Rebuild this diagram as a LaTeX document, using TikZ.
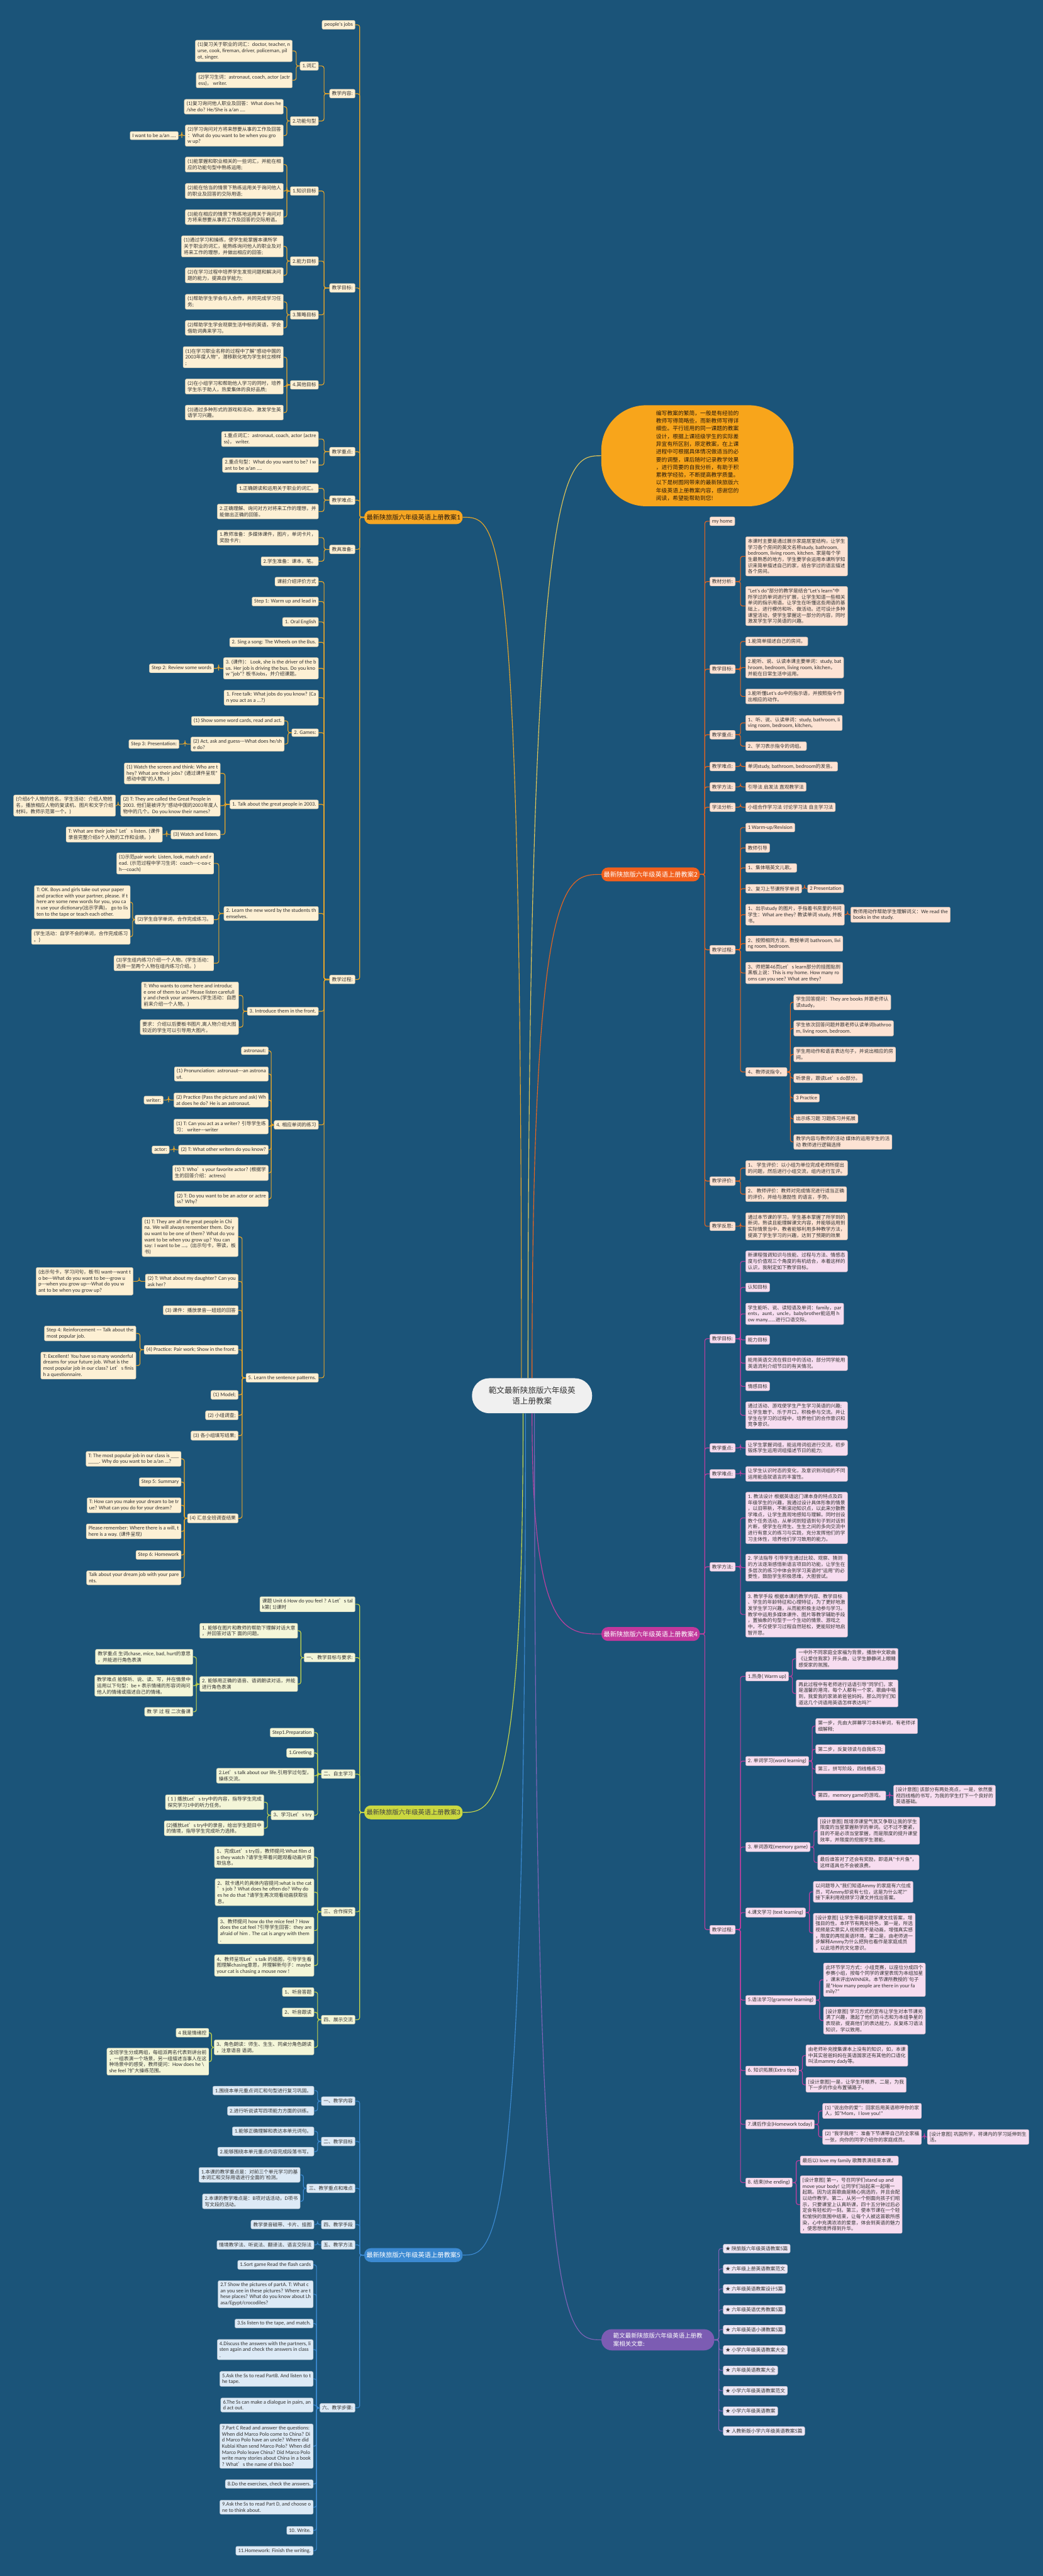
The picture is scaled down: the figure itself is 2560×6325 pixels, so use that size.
\documentclass[tikz,border=0pt]{standalone}
\usepackage{fontspec}
\setmainfont{Carlito}[Scale=1.1,Ligatures=TeXOff]
\newfontfamily\cjkfont{Noto Sans CJK SC}
% Chinese characters go to the CJK font, the rest stays in Carlito
\XeTeXinterchartokenstate=1
\newXeTeXintercharclass\cjkclass
\newcount\cjkcnt
\cjkcnt="2E80
\loop
  \XeTeXcharclass\cjkcnt=\cjkclass
  \advance\cjkcnt by 1
\ifnum\cjkcnt<"A000 \repeat
\cjkcnt="FF00
\loop
  \XeTeXcharclass\cjkcnt=\cjkclass
  \advance\cjkcnt by 1
\ifnum\cjkcnt<"FFF0 \repeat
\XeTeXcharclass"2605=\cjkclass
\XeTeXcharclass"2019=\cjkclass
\XeTeXinterchartoks 0 \cjkclass = {\cjkfont}
\XeTeXinterchartoks 4095 \cjkclass = {\cjkfont}
\XeTeXinterchartoks \cjkclass 0 = {\rmfamily}
\XeTeXinterchartoks \cjkclass 4095 = {\rmfamily}
\usepackage{tikz}
\usetikzlibrary{calc}
\definecolor{bgc}{HTML}{1B5479}
\definecolor{leaftext}{HTML}{333333}
\definecolor{main1}{HTML}{F6A623}
\definecolor{fill1}{HTML}{FDF0D4}
\definecolor{line1}{HTML}{E8A62A}
\definecolor{main2}{HTML}{F2601D}
\definecolor{fill2}{HTML}{FDE3D4}
\definecolor{line2}{HTML}{E9651F}
\definecolor{main3}{HTML}{CBD840}
\definecolor{fill3}{HTML}{F4F6D8}
\definecolor{line3}{HTML}{C9D84A}
\definecolor{main4}{HTML}{C2389C}
\definecolor{fill4}{HTML}{F7DDF0}
\definecolor{line4}{HTML}{C23FA0}
\definecolor{main5}{HTML}{3C8AD2}
\definecolor{fill5}{HTML}{DDEAF6}
\definecolor{line5}{HTML}{3C8AD2}
\definecolor{main6}{HTML}{7C5CB3}
\definecolor{fill6}{HTML}{ECE7F6}
\definecolor{line6}{HTML}{8064B8}
\definecolor{blobc}{HTML}{F8A51B}
\definecolor{lineb}{HTML}{E2C657}
\definecolor{rootc}{HTML}{F0F0F0}
\tikzset{
  leaf/.style   = {rectangle, rounded corners=2pt, align=left, inner xsep=3.2pt,
                   inner ysep=3pt, font=\fontsize{6.8}{8.5}\selectfont,
                   text=leaftext, line width=0.4pt},
  lf1/.style    = {leaf, fill=fill1, draw=fill1!80!black},
  lf2/.style    = {leaf, fill=fill2, draw=fill2!80!black},
  lf3/.style    = {leaf, fill=fill3, draw=fill3!80!black},
  lf4/.style    = {leaf, fill=fill4, draw=fill4!80!black},
  lf5/.style    = {leaf, fill=fill5, draw=fill5!80!black},
  lf6/.style    = {leaf, fill=fill6, draw=fill6!80!black},
  mainbr/.style = {rectangle, rounded corners=9pt, minimum height=0.68cm,
                   inner xsep=3.2pt, inner ysep=2pt, font=\fontsize{9}{11}\selectfont},
  mb1/.style    = {mainbr, fill=main1, text=black!80!brown},
  mb2/.style    = {mainbr, fill=main2, text=white},
  mb3/.style    = {mainbr, fill=main3, text=black!75},
  mb4/.style    = {mainbr, fill=main4, text=white},
  mb5/.style    = {mainbr, fill=main5, text=white},
  mb6/.style    = {mainbr, fill=main6, text=white, rounded corners=0.5cm, align=left,
                   minimum width=5.54cm, minimum height=1.04cm,
                   font=\fontsize{8.3}{11.3}\selectfont},
  rootbox/.style= {rectangle, rounded corners=0.85cm, fill=rootc, text=black!80,
                   align=center, minimum width=5.9cm, minimum height=1.72cm,
                   font=\fontsize{11}{14.2}\selectfont},
  introblob/.style={rectangle, rounded corners=2.2cm, fill=blobc, text=black!80!brown,
                   align=left, minimum width=9.44cm, minimum height=4.96cm,
                   font=\fontsize{7.7}{10.8}\selectfont},
  lnk/.style    = {line width=1pt, rounded corners=3pt},
  lk1/.style    = {lnk, draw=line1},
  lk2/.style    = {lnk, draw=line2},
  lk3/.style    = {lnk, draw=line3},
  lk4/.style    = {lnk, draw=line4},
  lk5/.style    = {lnk, draw=line5},
  lk6/.style    = {lnk, draw=line6},
  crv/.style    = {line width=1pt},
}
\newcommand\tol[3]{\foreach \nd in {#3}{\draw[#1] (#2.west) -| ($(#2.west)!.5!(\nd.east)$) |- (\nd.east);}}
\newcommand\tor[3]{\foreach \nd in {#3}{\draw[#1] (#2.east) -| ($(#2.east)!.5!(\nd.west)$) |- (\nd.west);}}
\begin{document}
\begin{tikzpicture}[x=0.02cm, y=-0.02cm]
\useasboundingbox (0,0) rectangle (2560,6325);
\fill[bgc] (0,0) rectangle (2560,6325);

\node[rootbox] (root) at (1306,3427) {範文最新陕旅版六年级英\\语上册教案};
\node[introblob] (intro) at (1712,1119) {编写教案的繁简，一般是有经验的\\教师写得简略些，而新教师写得详\\细些。平行班用的同一课题的教案\\设计，根据上课班级学生的实际差\\异宜有所区别，原定教案，在上课\\进程中可根据具体情况做适当的必\\要的调整，课后随时记录教学效果\\，进行简要的自我分析，有助于积\\累教学经验，不断提高教学质量。\\以下是树图网带来的最新陕旅版六\\年级英语上册教案内容，感谢您的\\阅读，希望能帮助到您!};

% ---- lesson 1 (left, orange)
\begin{scope}[every node/.append style={anchor=east}]
\node[mb1] (m1) at (1136,1270) {最新陕旅版六年级英语上册教案1};
\node[lf1] (pj) at (872,61) {people's jobs};
\node[lf1] (nr) at (872,230) {教学内容:};
\node[lf1] (ch) at (782,162) {1.词汇};
\node[lf1] (ch1) at (718,125) {(1)复习关于职业的词汇：doctor, teacher, n\\urse, cook, fireman, driver, policeman, pil\\ot, singer.};
\node[lf1] (ch2) at (718,197) {(2)学习生词：astronaut, coach, actor (actr\\ess)， writer.};
\node[lf1] (gn) at (782,297) {2.功能句型};
\node[lf1] (gn1) at (696,262) {(1)复习询问他人职业及回答：What does he\\/she do? He/She is a/an ....};
\node[lf1] (gn2) at (696,333) {(2)学习询问对方将来想要从事的工作及回答\\：What do you want to be when you gro\\w up?};
\node[lf1] (gn3) at (438,333) {I want to be a/an ....};
\node[lf1] (mbz) at (872,707) {教学目标:};
\node[lf1] (zs) at (782,469) {1.知识目标};
\node[lf1] (zs1) at (696,404) {(1)能掌握和职业相关的一些词汇，并能在相\\应的功能句型中熟练运用;};
\node[lf1] (zs2) at (696,469) {(2)能在恰当的情景下熟练运用关于询问他人\\的职业及回答的交际用语;};
\node[lf1] (zs3) at (696,533) {(3)能在相应的情景下熟练地运用关于询问对\\方将来想要从事的工作及回答的交际用语。};
\node[lf1] (nl) at (782,641) {2.能力目标};
\node[lf1] (nl1) at (696,605) {(1)通过学习和操练，使学生能掌握本课所学\\关于职业的词汇，能熟练询问他人的职业及对\\将来工作的理想，并做出相应的回答;};
\node[lf1] (nl2) at (696,676) {(2)在学习过程中培养学生发现问题和解决问\\题的能力，提高自学能力;};
\node[lf1] (cl) at (782,773) {3.策略目标};
\node[lf1] (cl1) at (696,741) {(1)帮助学生学会与人合作，共同完成学习任\\务;};
\node[lf1] (cl2) at (696,805) {(2)帮助学生学会观察生活中标的英语，学会\\借助词典来学习。};
\node[lf1] (qt) at (782,945) {4.其他目标};
\node[lf1] (qt1) at (696,877) {(1)在学习职业名称的过程中了解"感动中国的\\2003年度人物"，潜移默化地为学生树立榜样\\;};
\node[lf1] (qt2) at (696,949) {(2)在小组学习和帮助他人学习的同时，培养\\学生乐于助人，热爱集体的良好品质;};
\node[lf1] (qt3) at (696,1013) {(3)通过多种形式的游戏和活动，激发学生英\\语学习兴趣。};
\node[lf1] (zd) at (872,1109) {教学重点:};
\node[lf1] (zd1) at (782,1078) {1.重点词汇：astronaut, coach, actor (actre\\ss)， writer.};
\node[lf1] (zd2) at (782,1142) {2.重点句型：What do you want to be? I w\\ant to be a/an ....};
\node[lf1] (nd) at (872,1228) {教学难点:};
\node[lf1] (nd1) at (782,1199) {1.正确朗读和运用关于职业的词汇。};
\node[lf1] (nd2) at (782,1256) {2.正确理解、询问对方对将来工作的理想，并\\能做出正确的回答。};
\node[lf1] (jj) at (872,1349) {教具准备:};
\node[lf1] (jj1) at (782,1320) {1.教师准备：多媒体课件，图片，单词卡片，\\奖励卡片;};
\node[lf1] (jj2) at (782,1378) {2.学生准备：课本，笔。};
\node[lf1] (gc) at (872,2405) {教学过程:};
\node[lf1] (g1) at (782,1428) {课前介绍评价方式};
\node[lf1] (g2) at (782,1477) {Step 1: Warm up and lead in};
\node[lf1] (g3) at (782,1527) {1. Oral English};
\node[lf1] (g4) at (782,1577) {2. Sing a song: The Wheels on the Bus.};
\node[lf1] (g5) at (782,1641) {3. (课件)：  Look, she is the driver of the b\\us. Her job is driving the bus. Do you kno\\w "job"? 板书Jobs，并介绍课题。};
\node[lf1] (g5a) at (525,1641) {Step 2: Review some words};
\node[lf1] (g6) at (782,1713) {1. Free talk: What jobs do you know? (Ca\\n you act as a ...?)};
\node[lf1] (g7) at (782,1799) {2. Games:};
\node[lf1] (g7a) at (698,1770) {(1) Show some word cards, read and act.};
\node[lf1] (g7b) at (698,1827) {(2) Act, ask and guess---What does he/sh\\e do?};
\node[lf1] (g7c) at (440,1827) {Step 3: Presentation:};
\node[lf1] (g8) at (782,1975) {1. Talk about the great people in 2003.};
\node[lf1] (g8a) at (541,1899) {(1) Watch the screen and think: Who are t\\hey? What are their jobs? (通过课件呈现"\\感动中国"的人物。)};
\node[lf1] (g8b) at (541,1978) {(2) T: They are called the Great People in\\2003. 他们是被评为"感动中国的2003年度人\\物中的几个。Do you know their names?};
\node[lf1] (g8c) at (284,1978) {(介绍6个人物的姓名。学生活动：介绍人物姓\\名，播放相应人物的复读机、图片和文字介绍\\材料，教师示范第一个。)};
\node[lf1] (g8d) at (541,2049) {(3) Watch and listen.};
\node[lf1] (g8e) at (399,2049) {T: What are their jobs? Let’s listen. (课件\\录音完整介绍6个人物的工作和业绩。)};
\node[lf1] (g9) at (782,2243) {2. Learn the new word by the students th\\emselves.};
\node[lf1] (g9a) at (525,2120) {(1)示范pair work: Listen, look, match and r\\ead. (示范过程中学习生词：coach---c-oa-c\\h---coach)};
\node[lf1] (g9b) at (525,2258) {(2)学生自学单词，合作完成练习。};
\node[lf1] (g9c) at (320,2215) {T: OK. Boys and girls take out your paper\\and practice with your partner, please. If t\\here are some new words for you, you ca\\n use your dictionary(出示字典)，  go to lis\\ten to the tape or teach each other.};
\node[lf1] (g9d) at (320,2300) {(学生活动：自学不会的单词，合作完成练习\\。)};
\node[lf1] (g9e) at (525,2365) {(3)学生组内练习介绍一个人物。(学生活动：\\选择一至两个人物在组内练习介绍。)};
\node[lf1] (g10) at (782,2483) {3. Introduce them in the front.};
\node[lf1] (g10a) at (586,2444) {T: Who wants to come here and introduc\\e one of them to us? Please listen carefull\\y and check your answers.(学生活动：自愿\\前来介绍一个人物。)};
\node[lf1] (g10b) at (586,2522) {要求：介绍以后要板书图片,离人物介绍大图\\较近的学生可以引导用大图片。};
\node[lf1] (g11) at (782,2762) {4. 相应单词的练习};
\node[lf1] (g11a) at (659,2580) {astronaut:};
\node[lf1] (g11b) at (659,2637) {(1) Pronunciation: astronaut---an astrona\\ut.};
\node[lf1] (g11c) at (659,2701) {(2) Practice (Pass the picture and ask) Wh\\at does he do? He is an astronaut.};
\node[lf1] (g11d) at (401,2701) {writer:};
\node[lf1] (g11e) at (659,2766) {(1) T: Can you act as a writer? 引导学生练\\习：  writer---writer};
\node[lf1] (g11f) at (659,2823) {(2) T: What other writers do you know?};
\node[lf1] (g11g) at (416,2823) {actor:};
\node[lf1] (g11h) at (659,2880) {(1) T: Who’s your favorite actor? (根据学\\生的回答介绍：actress)};
\node[lf1] (g11i) at (659,2944) {(2) T: Do you want to be an actor or actre\\ss? Why?};
\node[lf1] (g12) at (782,3383) {5. Learn the sentence patterns.};
\node[lf1] (g12a) at (585,3037) {(1) T: They are all the great people in Chi\\na. We will always remember them. Do y\\ou want to be one of them? What do you\\ want to be when you grow up? You can\\say: I want to be ...。(出示句卡，带读，板\\书)};
\node[lf1] (g12b) at (585,3146) {(2) T: What about my daughter? Can you\\ask her?};
\node[lf1] (g12c) at (327,3146) {(出示句卡，学习问句，板书) want---want t\\o be---What do you want to be---grow u\\p---when you grow up---What do you w\\ant to be when you grow up?};
\node[lf1] (g12d) at (585,3217) {(3) 课件：播放录音---妞妞的回答};
\node[lf1] (g12e) at (585,3314) {(4) Practice: Pair work; Show in the front.};
\node[lf1] (g12f) at (334,3274) {Step 4: Reinforcement --- Talk about the\\most popular job.};
\node[lf1] (g12g) at (334,3353) {T: Excellent! You have so many wonderful\\ dreams for your future job. What is the\\most popular job in our class? Let’s finis\\h a questionnaire.};
\node[lf1] (g12h) at (585,3425) {(1) Model;};
\node[lf1] (g12i) at (585,3475) {(2) 小组调查;};
\node[lf1] (g12j) at (585,3525) {(3) 各小组填写结果;};
\node[lf1] (g12k) at (585,3728) {(4) 汇总全班调查结果};
\node[lf1] (s1) at (445,3582) {T: The most popular job in our class is \_\_\_\\\_\_\_\_. Why do you want to be a/an ...?};
\node[lf1] (s2) at (445,3639) {Step 5: Summary};
\node[lf1] (s3) at (445,3696) {T: How can you make your dream to be tr\\ue? What can you do for your dream?};
\node[lf1] (s4) at (445,3760) {Please remember: Where there is a will, t\\here is a way. (课件呈现)};
\node[lf1] (s5) at (445,3818) {Step 6: Homework};
\node[lf1] (s6) at (445,3874) {Talk about your dream job with your pare\\nts.};
\end{scope}
\tol{lk1}{m1}{pj,nr,mbz,zd,nd,jj,gc}
\tol{lk1}{nr}{ch,gn}
\tol{lk1}{ch}{ch1,ch2}
\tol{lk1}{gn}{gn1,gn2}
\tol{lk1}{gn2}{gn3}
\tol{lk1}{mbz}{zs,nl,cl,qt}
\tol{lk1}{zs}{zs1,zs2,zs3}
\tol{lk1}{nl}{nl1,nl2}
\tol{lk1}{cl}{cl1,cl2}
\tol{lk1}{qt}{qt1,qt2,qt3}
\tol{lk1}{zd}{zd1,zd2}
\tol{lk1}{nd}{nd1,nd2}
\tol{lk1}{jj}{jj1,jj2}
\tol{lk1}{gc}{g1,g2,g3,g4,g5,g6,g7,g8,g9,g10,g11,g12}
\tol{lk1}{g5}{g5a}
\tol{lk1}{g7}{g7a,g7b}
\tol{lk1}{g7b}{g7c}
\tol{lk1}{g8}{g8a,g8b,g8d}
\tol{lk1}{g8b}{g8c}
\tol{lk1}{g8d}{g8e}
\tol{lk1}{g9}{g9a,g9b,g9e}
\tol{lk1}{g9b}{g9c,g9d}
\tol{lk1}{g10}{g10a,g10b}
\tol{lk1}{g11}{g11a,g11b,g11c,g11e,g11f,g11h,g11i}
\tol{lk1}{g11c}{g11d}
\tol{lk1}{g11f}{g11g}
\tol{lk1}{g12}{g12a,g12b,g12d,g12e,g12h,g12i,g12j,g12k}
\tol{lk1}{g12b}{g12c}
\tol{lk1}{g12e}{g12f,g12g}
\tol{lk1}{g12k}{s1,s2,s3,s4,s5,s6}

% ---- lesson 3 (left, yellow-green)
\begin{scope}[every node/.append style={anchor=east}]
\node[mb3] (m3) at (1136,4450) {最新陕旅版六年级英语上册教案3};
\node[lf3] (kt) at (872,3939) {课题 Unit 6 How do you feel ? A Let’s tal\\k第( 1)课时};
\node[lf3] (y1) at (872,4070) {一、 教学目标与要求:};
\node[lf3] (y1a) at (731,4004) {1. 能够在图片和教师的帮助下理解对话大意\\，并回答对话下 面的问题。};
\node[lf3] (y1b) at (731,4135) {2. 能够用正确的语音、语调朗读对话，并能\\进行角色表演};
\node[lf3] (y1c) at (474,4068) {教学重点 生词chase, mice, bad, hurt的意思\\，并能进行角色表演};
\node[lf3] (y1d) at (474,4139) {教学难点 能够听、说、读、写，并在情景中\\运用以下句型：be + 表示情绪的形容词询问\\他人的情绪或描述自己的情绪。};
\node[lf3] (y1e) at (474,4203) {教 学 过 程 二次备课};
\node[lf3] (y2) at (872,4356) {二、自主学习};
\node[lf3] (y2a) at (771,4254) {Step1.Preparation};
\node[lf3] (y2b) at (771,4304) {1.Greeting};
\node[lf3] (y2c) at (771,4360) {2.Let’s talk about our life.引用学过句型，\\操练交流。};
\node[lf3] (y2d) at (771,4457) {3、学习Let’s try};
\node[lf3] (y2e) at (648,4425) {( 1 ) 播放Let’s try中的内容，指导学生完成\\探究学习1中的听力任务。};
\node[lf3] (y2f) at (648,4489) {(2)播放Let’s try中的录音，给出学生题目中\\的情境，指导学生完成听力选择。};
\node[lf3] (y3) at (872,4694) {三、合作探究};
\node[lf3] (y3a) at (771,4560) {1、完成Let’s try后，教师提问:What film d\\o they watch ?请学生带着问题观看动画片获\\取信息。};
\node[lf3] (y3b) at (771,4646) {2、就卡通片的具体内容提问:what is the cat\\’s job ? What does he often do? Why do\\es he do that ?请学生再次观看动画获取信\\息。};
\node[lf3] (y3c) at (771,4740) {3、教师提问 how do the mice feel ? How\\does the cat feel ?引导学生回答：they are\\afraid of him . The cat is angry with them\\.};
\node[lf3] (y3d) at (771,4826) {4、教师呈现Let’s talk 的插图，引导学生看\\图理解chasing意思，并理解新句子：maybe\\ your cat is chasing a mouse now !};
\node[lf3] (y4) at (872,4959) {四、展示交流};
\node[lf3] (y4a) at (771,4891) {1、听音答题};
\node[lf3] (y4b) at (771,4941) {2、听音跟读};
\node[lf3] (y4c) at (771,5027) {3、角色朗读：师生、生生、同桌分角色朗读\\，注意语音 语调。};
\node[lf3] (y4d) at (513,4991) {4 我是情绪控};
\node[lf3] (y4e) at (513,5062) {全班学生分成两组，每组派两名代表到讲台前\\，一组表演一个场景，另一组描述当事人在这\\种场景中的感受，教师提问：How does he \textbackslash\\she feel ?扩大操练范围。};
\end{scope}
\tol{lk3}{m3}{kt,y1,y2,y3,y4}
\tol{lk3}{y1}{y1a,y1b}
\tol{lk3}{y1b}{y1c,y1d,y1e}
\tol{lk3}{y2}{y2a,y2b,y2c,y2d}
\tol{lk3}{y2d}{y2e,y2f}
\tol{lk3}{y3}{y3a,y3b,y3c,y3d}
\tol{lk3}{y4}{y4a,y4b,y4c}
\tol{lk3}{y4c}{y4d,y4e}

% ---- lesson 5 (left, blue)
\begin{scope}[every node/.append style={anchor=east}]
\node[mb5] (m5) at (1136,5537) {最新陕旅版六年级英语上册教案5};
\node[lf5] (e1) at (872,5159) {一、教学内容};
\node[lf5] (e1a) at (771,5133) {1.围绕本单元重点词汇和句型进行复习巩固。};
\node[lf5] (e1b) at (771,5183) {2.进行听说读写四项能力方面的训练。};
\node[lf5] (e2) at (872,5258) {二、教学目标};
\node[lf5] (e2a) at (771,5233) {1.能够正确理解和表达本单元词句。};
\node[lf5] (e2b) at (771,5283) {2.能够围绕本单元重点内容完成段落书写。};
\node[lf5] (e3) at (872,5373) {三、教学重点和难点};
\node[lf5] (e3a) at (737,5340) {1.本课的教学重点是：对前三个单元学习的基\\本词汇和交际用语进行全面的`检测。};
\node[lf5] (e3b) at (737,5405) {2.本课的教学难点是：B项对话活动，D项书\\写文段的活动。};
\node[lf5] (e4) at (872,5462) {四、教学手段};
\node[lf5] (e4a) at (771,5462) {教学录音磁带、卡片、挂图};
\node[lf5] (e5) at (872,5512) {五、教学方法};
\node[lf5] (e5a) at (771,5512) {情境教学法、听说法、翻译法、语言交际法};
\node[lf5] (e6) at (872,5912) {六、教学步骤:};
\node[lf5] (f1) at (769,5561) {1.Sort game Read the flash cards};
\node[lf5] (f2) at (769,5633) {2.T Show the pictures of partA. T: What c\\an you see in these pictures? Where are t\\hese places? What do you know about Lh\\asa/Egypt/crocodiles?};
\node[lf5] (f3) at (769,5705) {3.Ss listen to the tape, and match.};
\node[lf5] (f4) at (769,5769) {4.Discuss the answers with the partners, li\\sten again and check the answers in class\\.};
\node[lf5] (f5) at (769,5841) {5.Ask the Ss to read PartB. And listen to t\\he tape.};
\node[lf5] (f6) at (769,5905) {6.The Ss can make a dialogue in pairs, an\\d act out.};
\node[lf5] (f7) at (769,6006) {7.Part C Read and answer the questions:\\When did Marco Polo come to China? Di\\d Marco Polo have an uncle? Where did\\Kublai Khan send Marco Polo? When did\\Marco Polo leave China? Did Marco Polo\\write many stories about China in a book\\? What’s the name of this boo?};
\node[lf5] (f8) at (769,6099) {8.Do the exercises, check the answers.};
\node[lf5] (f9) at (769,6156) {9.Ask the Ss to read Part D, and choose o\\ne to think about.};
\node[lf5] (f10) at (769,6213) {10. Write.};
\node[lf5] (f11) at (769,6263) {11.Homework: Finish the writing.};
\end{scope}
\tol{lk5}{m5}{e1,e2,e3,e4,e5,e6}
\tol{lk5}{e1}{e1a,e1b}
\tol{lk5}{e2}{e2a,e2b}
\tol{lk5}{e3}{e3a,e3b}
\tol{lk5}{e4}{e4a}
\tol{lk5}{e5}{e5a}
\tol{lk5}{e6}{f1,f2,f3,f4,f5,f6,f7,f8,f9,f10,f11}

% ---- lesson 2 (right, orange-red)
\begin{scope}[every node/.append style={anchor=west}]
\node[mb2] (m2) at (1476,2147) {最新陕旅版六年级英语上册教案2};
\node[lf2] (h1) at (1742,1280) {my home};
\node[lf2] (h2) at (1742,1428) {教材分析:};
\node[lf2] (h2a) at (1830,1366) {本课时主要是通过展示家庭居室结构，让学生\\学习各个房间的英文名称study, bathroom,\\bedroom, living room, kitchen. 家是每个学\\生最熟悉的地方，学生要学会运用本课所学知\\识来简单描述自己的家，结合学过的语言描述\\各个房间。};
\node[lf2] (h2b) at (1830,1488) {"Let's do"部分的教学是结合"Let's learn"中\\所学过的单词进行扩展，让学生知道一些相关\\单词的指示用语。让学生在听懂这些用语的基\\础上，进行模仿和听、做活动。还可设计多种\\课堂活动，使学生掌握这一部分的内容，同时\\激发学生学习英语的兴趣。};
\node[lf2] (h3) at (1742,1643) {教学目标:};
\node[lf2] (h3a) at (1830,1575) {1.能简单描述自己的房间。};
\node[lf2] (h3b) at (1830,1639) {2.能听、说、认读本课主要单词：study, bat\\hroom, bedroom, living room, kitchen，\\并能在日常生活中运用。};
\node[lf2] (h3c) at (1830,1710) {3.能听懂Let's do中的指示语，并按照指令作\\出相应的动作。};
\node[lf2] (h4) at (1742,1804) {教学重点:};
\node[lf2] (h4a) at (1830,1775) {1、听、说、认读单词：study, bathroom, li\\ving room, bedroom, kitchen。};
\node[lf2] (h4b) at (1830,1832) {2、学习表示指令的词组。};
\node[lf2] (h5) at (1742,1882) {教学难点:};
\node[lf2] (h5a) at (1830,1882) {单词study, bathroom, bedroom的发音。};
\node[lf2] (h6) at (1742,1932) {教学方法:};
\node[lf2] (h6a) at (1830,1932) {引导法 启发法 直观教学法};
\node[lf2] (h7) at (1742,1982) {学法分析:};
\node[lf2] (h7a) at (1830,1982) {小组合作学习法 讨论学习法 自主学习法};
\node[lf2] (h8) at (1742,2332) {教学过程:};
\node[lf2] (k1) at (1830,2032) {1 Warm-up/Revision};
\node[lf2] (k2) at (1830,2082) {教师引导};
\node[lf2] (k3) at (1830,2131) {1、集体唱英文儿歌。};
\node[lf2] (k4) at (1830,2182) {2、复习上节课所学单词};
\node[lf2] (k4a) at (1982,2182) {2 Presentation};
\node[lf2] (k5) at (1830,2246) {1、出示study 的图片，手指着书房里的书问\\学生：What are they? 教读单词 study, 并板\\书。};
\node[lf2] (k5a) at (2088,2246) {教师用动作帮助学生理解词义：We read the\\ books in the study.};
\node[lf2] (k6) at (1830,2317) {2、按照相同方法，教授单词 bathroom, livi\\ng room, bedroom.};
\node[lf2] (k7) at (1830,2389) {3、师把第46页Let’s learn部分的挂图贴到\\黑板上说：This is my home. How many ro\\oms can you see? What are they?};
\node[lf2] (k8) at (1830,2632) {4、教师说指令。};
\node[lf2] (k8a) at (1948,2461) {学生回答提问：They are books 并跟老师认\\读study。};
\node[lf2] (k8b) at (1948,2525) {学生依次回答问题并跟老师认读单词bathroo\\m, living room, bedroom.};
\node[lf2] (k8c) at (1948,2589) {学生用动作和语言表达句子，并说出相应的房\\间。};
\node[lf2] (k8d) at (1948,2647) {听录音，跟读Let’s do部分。};
\node[lf2] (k8e) at (1948,2696) {3 Practice};
\node[lf2] (k8f) at (1948,2747) {出示练习题 习题练习并拓展};
\node[lf2] (k8g) at (1948,2804) {教学内容与教师的活动 媒体的运用学生的活\\动 教师进行逻辑选择};
\node[lf2] (h9) at (1742,2900) {教学评价:};
\node[lf2] (h9a) at (1830,2868) {1、 学生评价：以小组为单位完成老师所提出\\的问题，然后进行小组交流，组内进行互评。};
\node[lf2] (h9b) at (1830,2932) {2、 教师评价：教师对完成情况进行适当正确\\的评价，并给与激励性 的语言，手势。};
\node[lf2] (h10) at (1742,3011) {教学反思:};
\node[lf2] (h10a) at (1830,3011) {通过本节课的学习，学生基本掌握了所学到的\\新词，熟读且能理解课文内容，并能够运用到\\实际情景当中，教者能够利用多种教学方法，\\提高了学生学习的兴趣，达到了预期的效果};
\end{scope}
\tor{lk2}{m2}{h1,h2,h3,h4,h5,h6,h7,h8,h9,h10}
\tor{lk2}{h2}{h2a,h2b}
\tor{lk2}{h3}{h3a,h3b,h3c}
\tor{lk2}{h4}{h4a,h4b}
\tor{lk2}{h5}{h5a}
\tor{lk2}{h6}{h6a}
\tor{lk2}{h7}{h7a}
\tor{lk2}{h8}{k1,k2,k3,k4,k5,k6,k7,k8}
\tor{lk2}{k4}{k4a}
\tor{lk2}{k5}{k5a}
\tor{lk2}{k8}{k8a,k8b,k8c,k8d,k8e,k8f,k8g}
\tor{lk2}{h9}{h9a,h9b}
\tor{lk2}{h10}{h10a}

% ---- lesson 4 (right, magenta)
\begin{scope}[every node/.append style={anchor=west}]
\node[mb4] (m4) at (1476,4012) {最新陕旅版六年级英语上册教案4};
\node[lf4] (t1) at (1742,3287) {教学目标:};
\node[lf4] (t1a) at (1830,3097) {新课程强调知识与技能、过程与方法、情感态\\度与价值观三个角度的有机结合，本着这样的\\认识，我制定如下教学目标。};
\node[lf4] (t1b) at (1830,3161) {认知目标};
\node[lf4] (t1c) at (1830,3226) {学生能听、说、读短语及单词：family，par\\ents，aunt，uncle，babybrother能运用 h\\ow many......进行口语交际。};
\node[lf4] (t1d) at (1830,3290) {能力目标};
\node[lf4] (t1e) at (1830,3347) {能用英语交流在假日中的活动，部分同学能用\\英语流利介绍节日的有关情况。};
\node[lf4] (t1f) at (1830,3404) {情感目标};
\node[lf4] (t1g) at (1830,3475) {通过活动、游戏使学生产生学习英语的兴趣;\\让学生敢于、乐于开口，积极参与交流。并让\\学生在学习的过程中，培养他们的合作意识和\\竞争意识。};
\node[lf4] (t2) at (1742,3555) {教学重点:};
\node[lf4] (t2a) at (1830,3555) {让学生掌握词组，能运用词组进行交流，初步\\锻炼学生运用词组描述节日的能力;};
\node[lf4] (t3) at (1742,3619) {教学难点:};
\node[lf4] (t3a) at (1830,3619) {让学生认识时态的变化，及意识到词组的不同\\运用能造就语言的丰富性。};
\node[lf4] (t4) at (1742,3847) {教学方法:};
\node[lf4] (t4a) at (1830,3727) {1. 教法设计 根据英语这门课本身的特点及四\\年级学生的兴趣，我通过设计具体形象的情景\\，以旧带新，不断滚动知识点，以此来分散教\\学难点，让学生直观地感知与理解。同时创设\\数个任务活动，从单词到短语到句子到对话到\\片断，使学生在师生、生生之间的多向交流中\\进行有意义的练习与实践，充分发挥他们的学\\习主体性，培养他们学习致用的能力。};
\node[lf4] (t4b) at (1830,3849) {2. 学法指导 引导学生通过比较、观察、猜测\\的方法逐渐感悟新语言项目的功能，让学生在\\多层次的练习中体会到学习英语时"运用"的必\\要性，鼓励学生积极思维，大胆尝试。};
\node[lf4] (t4c) at (1830,3964) {3. 教学手段 根据本课的教学内容、教学目标\\、学生的年龄特征和心理特征，为了更好地激\\发学生学习兴趣，从而能积极主动参与学习。\\教学中运用多媒体课件、图片等教学辅助手段\\，置抽象的句型于一个生动的情景、游戏之\\中，不仅使学习过程自然轻松，更能较好地启\\智开思。};
\node[lf4] (t5) at (1742,4738) {教学过程:};
\node[lf4] (u1) at (1830,4116) {1.热身( Warm up)};
\node[lf4] (u1a) at (1954,4073) {一中外不同家庭全家福为背景，播放中文歌曲\\《让爱住我家》开头曲，让学生静静闭上眼睛\\感受家的氛围。};
\node[lf4] (u1b) at (1954,4158) {再此过程中有老师进行话语引导"同学们，家\\是温馨的港湾，每个人都有一个家，歌曲中唱\\到，我爱我的家弟弟爸爸妈妈，那么同学们知\\道这几个词语用英语怎样表达吗?"};
\node[lf4] (u2) at (1830,4324) {2. 单词学习(word learning)};
\node[lf4] (u2a) at (2002,4238) {第一步，先由大屏幕学习本科单词，有老师详\\细解释;};
\node[lf4] (u2b) at (2002,4295) {第二步，反复领读与自我练习;};
\node[lf4] (u2c) at (2002,4344) {第三，拼写阶段，四线格练习;};
\node[lf4] (u2d) at (2002,4409) {第四，memory game的游戏。};
\node[lf4] (u2e) at (2193,4409) {[设计意图] 该部分有两处亮点，一是，依然重\\视四线格的书写，为我的学生打下一个良好的\\英语基础。};
\node[lf4] (u3) at (1830,4535) {3. 单词游戏(memory game)};
\node[lf4] (u3a) at (2007,4495) {[设计意图] 既增添课堂气氛又争取让我的学生\\限度的当堂掌握新学的单词。记不过不要紧，\\目的不是必须当堂掌握，而是限度的提升课堂\\效率，并限度的挖掘学生潜能。};
\node[lf4] (u3b) at (2007,4573) {最后谁答对了还会有奖励，即道具"卡片鱼"，\\这样道具也不会被浪费。};
\node[lf4] (u4) at (1830,4696) {4.课文学习 (text learning)};
\node[lf4] (u4a) at (1996,4645) {以问题导入"我们知道Ammy 的家庭有六位成\\员，可Ammy却说有七位，这是为什么呢?"\\接下来利用视频学习课文并找出答案。};
\node[lf4] (u4b) at (1996,4746) {[设计意图] 让学生带着问题学课文找答案，增\\强目的性。本环节有两处特色，第一是，所选\\视频是实景实人视频而不是动画，增强真实感\\，限度的再现英语环境。第二是，由老师进一\\步解释Ammy为什么把狗也看作是家庭成员\\，以此培养的文化意识。};
\node[lf4] (u5) at (1830,4911) {5.语法学习(grammer learning)};
\node[lf4] (u5a) at (2021,4861) {此环节学习方式：小组竞赛，以座位分成四个\\参赛小组，按每个同学的课堂表现为本组加星\\，课末评出WINNER。本节课所教授的`句子\\是"How many people are there in your fa\\mily?"};
\node[lf4] (u5b) at (2021,4961) {[设计意图] 学习方式的宣布让学生对本节课充\\满了兴趣，激起了他们的斗志和为本组争星的\\表现欲，提高他们的表达能力，反复练习语法\\知识，学以致用。};
\node[lf4] (u6) at (1830,5084) {6. 知识拓展(Extra tips)};
\node[lf4] (u6a) at (1978,5047) {由老师补充搜集课本上没有的知识，如，本课\\中其实爸爸妈妈在英语国家还有其他的口语化\\叫法mammy dady等。};
\node[lf4] (u6b) at (1978,5119) {[设计意图]一是，让学生开眼界。二是，为我\\下一步的作业布置铺路子。};
\node[lf4] (u7) at (1830,5216) {7.课后作业(Homework today)};
\node[lf4] (u7a) at (2019,5183) {(1) "说出你的爱"：回家后用英语称呼你的家\\人，如"Mom，I love you!"};
\node[lf4] (u7b) at (2019,5247) {(2) "我学我用"：准备下节课带自己的全家福\\一张，向你的同学介绍你的家庭成员。};
\node[lf4] (u7c) at (2276,5247) {[设计意图] 巩固所学，将课内的学习延伸到生\\活。};
\node[lf4] (u8) at (1830,5359) {8. 结束(the ending)};
\node[lf4] (u8a) at (1964,5305) {最后以I love my family 歌舞表演结束本课。};
\node[lf4] (u8b) at (1964,5413) {[设计意图] 第一，号召同学们stand up and\\move your body! 让同学们站起来一起唱一\\起跳。因为这首歌曲是精心挑选的，并且会配\\以动作教学。第二，从另一个侧面向孩子们昭\\示，只要课堂上认真听课，四十五分钟过后必\\定会有轻松的一刻。第三，使本节课在一个轻\\松愉快的氛围中结束，让每个人被这首歌所感\\染，心中充满浓浓的爱意，体会到英语的魅力\\，使思想境界得到升华。};
\end{scope}
\tor{lk4}{m4}{t1,t2,t3,t4,t5}
\tor{lk4}{t1}{t1a,t1b,t1c,t1d,t1e,t1f,t1g}
\tor{lk4}{t2}{t2a}
\tor{lk4}{t3}{t3a}
\tor{lk4}{t4}{t4a,t4b,t4c}
\tor{lk4}{t5}{u1,u2,u3,u4,u5,u6,u7,u8}
\tor{lk4}{u1}{u1a,u1b}
\tor{lk4}{u2}{u2a,u2b,u2c,u2d}
\tor{lk4}{u2d}{u2e}
\tor{lk4}{u3}{u3a,u3b}
\tor{lk4}{u4}{u4a,u4b}
\tor{lk4}{u5}{u5a,u5b}
\tor{lk4}{u6}{u6a,u6b}
\tor{lk4}{u7}{u7a,u7b}
\tor{lk4}{u7b}{u7c}
\tor{lk4}{u8}{u8a,u8b}

% ---- related articles (right, purple)
\begin{scope}[every node/.append style={anchor=west}]
\node[mb6] (m6) at (1476,5745) {範文最新陕旅版六年级英语上册教\\案相关文章:};
\node[lf6] (r1) at (1775,5521) {★ 陕旅版六年级英语教案5篇};
\node[lf6] (r2) at (1775,5571) {★ 六年级上册英语教案范文};
\node[lf6] (r3) at (1775,5620) {★ 六年级英语教案设计5篇};
\node[lf6] (r4) at (1775,5671) {★ 六年级英语优秀教案5篇};
\node[lf6] (r5) at (1775,5720) {★ 六年级英语小课教案5篇};
\node[lf6] (r6) at (1775,5770) {★ 小学六年级英语教案大全};
\node[lf6] (r7) at (1775,5820) {★ 六年级英语教案大全};
\node[lf6] (r8) at (1775,5870) {★ 小学六年级英语教案范文};
\node[lf6] (r9) at (1775,5920) {★ 小学六年级英语教案};
\node[lf6] (r10) at (1775,5969) {★ 人教新版小学六年级英语教案5篇};
\end{scope}
\tor{lk6}{m6}{r1,r2,r3,r4,r5,r6,r7,r8,r9,r10}

% ---- curves from the title
\draw[crv, draw=line1] ($(root.north)+(-26,0)$) .. controls ($(root.north |- m1.east)+(-26,0)$) and ($(m1.east)+(90,0)$) .. (m1.east);
\draw[crv, draw=lineb] ($(root.north)+(-10,0)$) .. controls ($(root.north |- intro.west)+(-10,0)$) and ($(intro.west)+(-90,0)$) .. (intro.west);
\draw[crv, draw=line2] (root.north) .. controls (root.north |- m2.west) and ($(m2.west)+(-90,0)$) .. (m2.west);
\draw[crv, draw=line3] ($(root.south)+(-22,0)$) .. controls ($(root.south |- m3.east)+(-22,0)$) and ($(m3.east)+(70,0)$) .. (m3.east);
\draw[crv, draw=line5] ($(root.south)+(-16,0)$) .. controls ($(root.south |- m5.east)+(-16,0)$) and ($(m5.east)+(80,0)$) .. (m5.east);
\draw[crv, draw=line4] (root.south) .. controls (root.south |- m4.west) and ($(m4.west)+(-90,0)$) .. (m4.west);
\draw[crv, draw=line6] ($(root.south)+(6,0)$) .. controls ($(root.south |- m6.west)+(6,0)$) and ($(m6.west)+(-90,0)$) .. (m6.west);
\end{tikzpicture}
\end{document}
